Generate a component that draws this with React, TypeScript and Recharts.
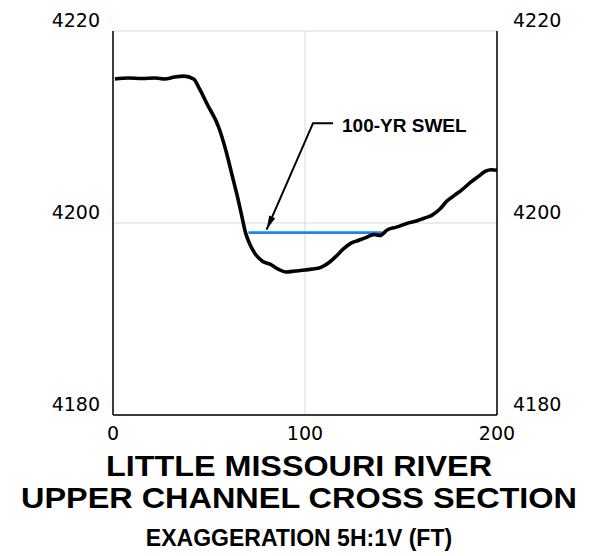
import React from 'react';
import { LineChart, Line, XAxis, YAxis, CartesianGrid } from 'recharts';

// ground profile, station (ft) vs elevation (ft)
const stations = [
  1, 8, 15, 22, 27, 32, 37, 42, 45, 49, 55, 59, 62, 64.5, 67, 69, 71, 74, 78, 82, 86, 90,
  95, 100, 104, 108, 112, 116, 120, 124, 128, 132, 136, 139, 143, 148, 153, 158, 162, 166,
  170, 174, 178, 182, 186, 190, 194, 197, 200,
];
const elevations = [
  4215.0, 4215.1, 4215.05, 4215.1, 4215.0, 4215.2, 4215.3, 4215.0, 4214.0, 4212.4, 4210.0,
  4207.4, 4205.0, 4203.0, 4200.8, 4199.0, 4197.9, 4196.8, 4196.0, 4195.7, 4195.2, 4194.9,
  4195.0, 4195.1, 4195.2, 4195.35, 4195.8, 4196.5, 4197.3, 4197.9, 4198.2, 4198.5, 4198.8,
  4198.7, 4199.3, 4199.6, 4199.95, 4200.2, 4200.5, 4200.8, 4201.4, 4202.3, 4202.9, 4203.5,
  4204.2, 4204.8, 4205.4, 4205.55, 4205.5,
];

// 100-yr water surface
const swelStations = [70.5, 140];
const swelElevations = [4199, 4199];

// callout leader: arrow tip, elbow, end
const leaderStations = [80, 104.2, 114.6];
const leaderElevations = [4199.3, 4210.4, 4210.4];
const calloutText = '100-YR SWEL';

const xTicks = [0, 100, 200];
const yTicks = [4180, 4200, 4220];

const titleLines = ['LITTLE MISSOURI RIVER', 'UPPER CHANNEL CROSS SECTION', 'EXAGGERATION 5H:1V (FT)'];

const toRows = (xs: number[], ys: number[]) => xs.map((x, i) => ({ station: x, elev: ys[i] }));

const profile = toRows(stations, elevations);
const swel = toRows(swelStations, swelElevations);
const leader = toRows(leaderStations, leaderElevations);

const TICK_FONT = '"DejaVu Sans", sans-serif';
const BOLD_FONT = '"Liberation Sans", Arial, sans-serif';

const LeftTick = ({ x, y, payload }: any) => (
  <text x={x - 13} y={y - 4} textAnchor="end" fontFamily={TICK_FONT} fontSize={19} fill="#000">
    {payload.value}
  </text>
);

const RightTick = ({ x, y, payload }: any) => (
  <text x={x + 16} y={y - 4} textAnchor="start" fontFamily={TICK_FONT} fontSize={19} fill="#000">
    {payload.value}
  </text>
);

const BottomTick = ({ x, y, payload }: any) => (
  <text x={x} y={y + 25} textAnchor="middle" fontFamily={TICK_FONT} fontSize={19} fill="#000">
    {payload.value}
  </text>
);

const LeaderDot = (props: any) => {
  const { cx, cy, index } = props;
  if (index === 0) {
    return (
      <polygon
        key="arrow"
        points="0,0 -3.2,-14 3.2,-14"
        fill="#000"
        transform={`translate(${cx},${cy}) rotate(23.4)`}
      />
    );
  }
  if (index === leaderStations.length - 1) {
    return (
      <text key="callout" x={cx + 9} y={cy + 9} fontFamily={BOLD_FONT} fontWeight="bold" fontSize={19} fill="#000">
        {calloutText}
      </text>
    );
  }
  return <g key={`d${index}`} />;
};

export default function App() {
  return (
    <div style={{ position: 'absolute', left: 0, top: 0, width: 595, height: 556, background: '#fff' }}>
      <LineChart width={595} height={556} margin={{ top: 31, right: 38, bottom: 111, left: 53 }}>
        <CartesianGrid stroke="#d8d8d8" strokeWidth={1} />
        <XAxis
          dataKey="station"
          type="number"
          domain={[0, 200]}
          ticks={xTicks}
          height={30}
          axisLine={{ stroke: '#000', strokeWidth: 1.5 }}
          tickLine={false}
          tickSize={0}
          tickMargin={0}
          tick={<BottomTick />}
          allowDataOverflow
        />
        <YAxis
          type="number"
          domain={[4180, 4220]}
          ticks={yTicks}
          width={60}
          axisLine={{ stroke: '#000', strokeWidth: 1.5 }}
          tickLine={false}
          tickSize={0}
          tickMargin={0}
          tick={<LeftTick />}
          allowDataOverflow
        />
        <YAxis
          yAxisId="right"
          orientation="right"
          type="number"
          domain={[4180, 4220]}
          ticks={yTicks}
          width={60}
          axisLine={{ stroke: '#000', strokeWidth: 1.5 }}
          tickLine={false}
          tickSize={0}
          tickMargin={0}
          tick={<RightTick />}
          allowDataOverflow
        />
        <Line
          data={swel}
          dataKey="elev"
          type="linear"
          stroke="#1a84f0"
          strokeWidth={2.6}
          dot={false}
          isAnimationActive={false}
        />
        <Line
          data={profile}
          dataKey="elev"
          type="monotone"
          stroke="#000"
          strokeWidth={3.6}
          strokeLinejoin="round"
          dot={false}
          isAnimationActive={false}
        />
        <Line
          data={leader}
          dataKey="elev"
          type="linear"
          stroke="#000"
          strokeWidth={2}
          dot={LeaderDot}
          isAnimationActive={false}
        />
      </LineChart>
      <svg
        width={595}
        height={556}
        style={{ position: 'absolute', left: 0, top: 0, pointerEvents: 'none' }}
      >
        <text x={299} y={476} textAnchor="middle" fontFamily={BOLD_FONT} fontWeight="bold" fontSize={30}
          textLength={386} lengthAdjust="spacingAndGlyphs">
          {titleLines[0]}
        </text>
        <text x={299} y={508} textAnchor="middle" fontFamily={BOLD_FONT} fontWeight="bold" fontSize={30}
          textLength={556} lengthAdjust="spacingAndGlyphs">
          {titleLines[1]}
        </text>
        <text x={299} y={546} textAnchor="middle" fontFamily={BOLD_FONT} fontWeight="bold" fontSize={23}>
          {titleLines[2]}
        </text>
      </svg>
    </div>
  );
}
